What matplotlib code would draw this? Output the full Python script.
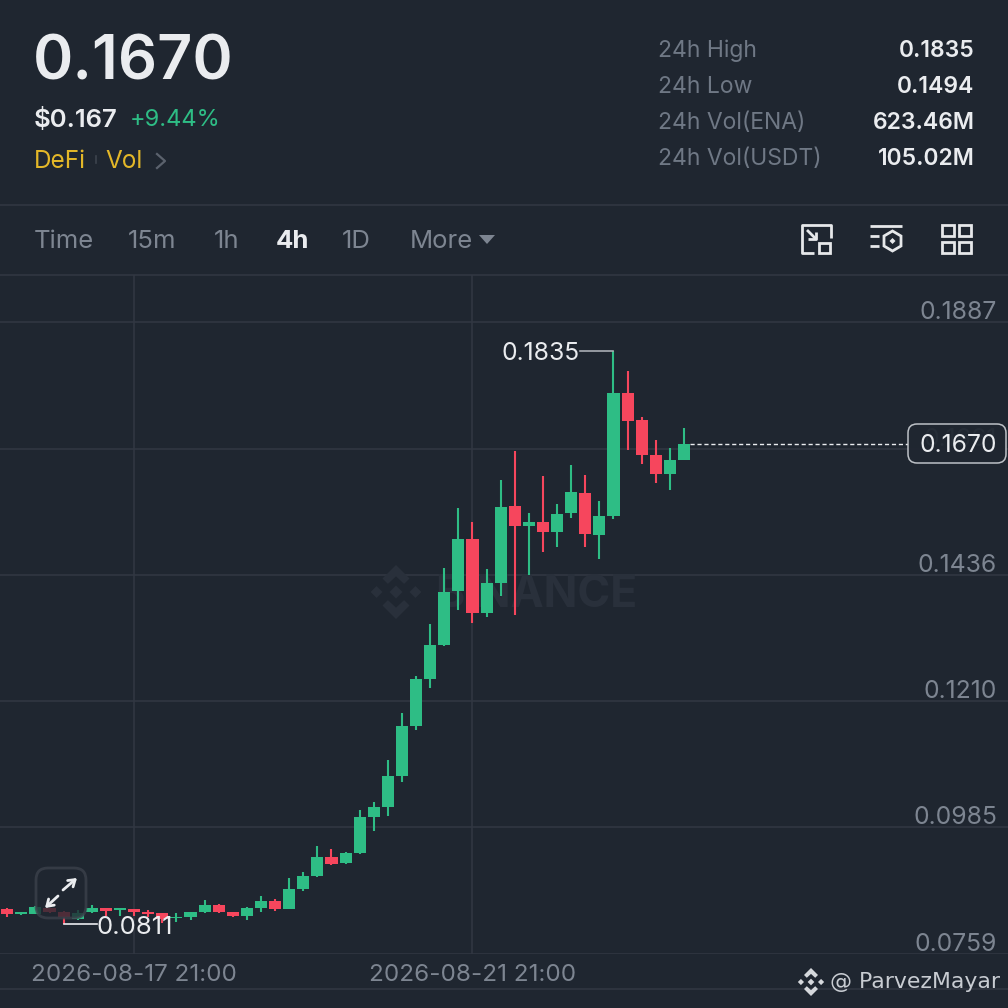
# Свечной график ENA/USDT, 4h
import matplotlib
matplotlib.use('Agg')
import matplotlib.pyplot as plt
from matplotlib.patches import FancyBboxPatch, Polygon, Rectangle

plt.rcParams['font.family'] = ['Inter', 'DejaVu Sans']

BG = '#1f2630'
GRID = '#323843'
GREEN = '#2ebd85'
RED = '#f6465d'
GREY = '#7d8591'
WHITE = '#eaecef'
YELLOW = '#e3b728'
WATERMARK = '#29303b'

opens = [.08385, .08296, .08301, .08398, .08332, .08201, .08326, .08398, .08362, .08380,
         .08332, .08314, .08219, .08242, .08326, .08462, .08326, .08266, .08408, .08528,
         .08385, .08742, .08975, .09314, .09213, .09391, .10029, .10202, .10761, .11654,
         .12499, .13101, .14060, .14989, .13667, .14208, .15584, .15227, .15298, .15125,
         .15459, .15816, .15071, .15400, .17602, .17115, .16489, .16161, .16400]
highs = [.08412, .08337, .08444, .08408, .08355, .08367, .08451, .08403, .08403, .08385,
         .08373, .08319, .08308, .08326, .08546, .08475, .08337, .08426, .08617, .08558,
         .08932, .09046, .09510, .09451, .09409, .10159, .10302, .11047, .11881, .12553,
         .13476, .14471, .15548, .15293, .14459, .16043, .16566, .15453, .16120, .15620,
         .16311, .16138, .15668, .18350, .18001, .17168, .16768, .16614, .16977]
lows = [.08242, .08278, .08296, .08308, .08110, .08189, .08314, .08260, .08260, .08265,
        .08237, .08141, .08158, .08189, .08314, .08314, .08242, .08189, .08332, .08350,
        .08380, .08712, .08963, .09177, .09195, .09373, .09784, .10052, .10649, .11588,
        .12333, .13083, .13726, .13499, .13596, .13976, .13632, .14357, .14757, .14857,
        .15369, .14846, .14637, .15357, .16589, .16329, .15995, .15870, .16400]
closes = [.08301, .08332, .08416, .08332, .08248, .08308, .08403, .08355, .08398, .08337,
          .08291, .08207, .08248, .08326, .08451, .08337, .08266, .08408, .08523, .08385,
          .08737, .08980, .09314, .09195, .09380, .10029, .10202, .10761, .11654, .12499,
          .13096, .14048, .14989, .13667, .14208, .15566, .15221, .15298, .15119, .15446,
          .15829, .15078, .15405, .17602, .17102, .16500, .16161, .16400, .16697]

price_ticks = [0.1887, 0.1661, 0.1436, 0.1210, 0.0985, 0.0759]
date_positions = [9, 33]
date_labels = ['2026-08-17 21:00', '2026-08-21 21:00']
last_price = 0.1670
top_tabs = ['Time', '15m', '1h', '4h', '1D', 'More']
tab_x = [34, 128, 214, 276, 342, 410]
stat_names = ['24h High', '24h Low', '24h Vol(ENA)', '24h Vol(USDT)']
stat_values = ['0.1835', '0.1494', '623.46M', '105.02M']
stat_y = [51, 87, 123, 159]

fig = plt.figure(figsize=(10.08, 10.08), dpi=100, facecolor=BG)

# Область свечей: y от 275 до 954 пикселей
ax = fig.add_axes([0, 54 / 1008, 1, 679 / 1008], facecolor='none')
ax.set_xlim(-0.511, 70.98)
ax.set_ylim(0.07582, 0.19710)
for side in ax.spines.values():
    side.set_visible(False)
ax.set_xticks([])
ax.set_yticks([])

# Слой интерфейса в пикселях
ui = fig.add_axes([0, 0, 1, 1], facecolor='none')
ui.set_xlim(0, 1008)
ui.set_ylim(1008, 0)
ui.axis('off')

for p in price_ticks:
    ax.axhline(p, color=GRID, lw=1.1, zorder=1)
for d in date_positions:
    ax.axvline(d, color=GRID, lw=1.1, zorder=1)

# Значок биржи
def logo(target, cx, cy, r, color, zorder):
    shapes = [
        [(0, .24), (.24, 0), (0, -.24), (-.24, 0)],
        [(-.72, .22), (-.5, 0), (-.72, -.22), (-.94, 0)],
        [(.72, .22), (.94, 0), (.72, -.22), (.5, 0)],
        [(0, 1), (.5, .5), (.3, .3), (0, .58), (-.3, .3), (-.5, .5)],
        [(0, -1), (.5, -.5), (.3, -.3), (0, -.58), (-.3, -.3), (-.5, -.5)],
    ]
    for s in shapes:
        pts = [(cx + a * r, cy - b * r) for a, b in s]
        target.add_patch(Polygon(pts, closed=True, fc=color, ec='none',
                                 transform=ui.transData, zorder=zorder))

logo(ax, 396, 592, 27, WATERMARK, 1.5)
ax.text(435, 595, 'BINANCE', transform=ui.transData, color=WATERMARK, fontsize=32,
        fontweight='bold', va='center', ha='left', zorder=1.5)

# Свечи
for i in range(len(opens)):
    color = GREEN if closes[i] >= opens[i] else RED
    ax.vlines(i, lows[i], highs[i], color=color, lw=1.5, zorder=3)
    bottom = min(opens[i], closes[i])
    ax.add_patch(Rectangle((i - 0.43, bottom), 0.86, abs(closes[i] - opens[i]),
                           fc=color, ec='none', zorder=4))

# Подписи осей
for p in price_ticks:
    ax.annotate(f'{p:.4f}', xy=(1, p), xycoords=ax.get_yaxis_transform(),
                xytext=(-8, -1.5), textcoords='offset points', color=GREY, fontsize=17.8,
                ha='right', va='bottom', zorder=2)

for d, label in zip(date_positions, date_labels):
    ax.annotate(label, xy=(d, 0), xycoords=ax.get_xaxis_transform(), xytext=(0, -7.5),
                textcoords='offset points', color=GREY, fontsize=17.4, ha='center', va='top')

# Максимум и минимум
hi_i = highs.index(max(highs))
lo_i = lows.index(min(lows))
ax.plot([hi_i - 2.4, hi_i], [highs[hi_i], highs[hi_i]], color='#a9adb3', lw=1.2, zorder=5)
ax.annotate(f'{highs[hi_i]:.4f}', xy=(hi_i - 2.4, highs[hi_i]), xytext=(0, -2),
            textcoords='offset points', color=WHITE, fontsize=17.8, ha='right', va='center', zorder=6)
ax.plot([lo_i, lo_i + 2.4], [lows[lo_i], lows[lo_i]], color=WHITE, lw=1.2, zorder=5)
ax.annotate(f'{lows[lo_i]:.4f}', xy=(lo_i + 2.4, lows[lo_i]), xytext=(-1, -2.5),
            textcoords='offset points', color=WHITE, fontsize=18.5, ha='left', va='center', zorder=6)

# Линия текущей цены
ax.plot([48.4, 63.9], [last_price, last_price], color=WHITE, lw=1, dashes=(3, 2), zorder=5)
ui.add_patch(FancyBboxPatch((908, 424), 98, 39, boxstyle='round,pad=0,rounding_size=9',
                            fc=BG, ec='#c9cdd2', lw=1.1, alpha=0.93, zorder=6))
ui.text(958, 446, f'{last_price:.4f}', color=WHITE, fontsize=17.8, ha='center', va='center', zorder=7)

# Шапка
ui.text(33, 63, '0.1670', color=WHITE, fontsize=44, fontweight=600, va='center')
ui.text(34, 120, '$0.167', color=WHITE, fontsize=18.5, fontweight=600, va='center')
ui.text(130, 120, '+9.44%', color=GREEN, fontsize=17, va='center')
ui.text(34, 162, 'DeFi', color=YELLOW, fontsize=17.5, va='center')
ui.plot([96, 96], [156, 163], color='#3d434d', lw=1.2)
ui.text(105, 162, 'Vol', color=YELLOW, fontsize=17.5, va='center')
ui.plot([157, 165, 157], [154, 161, 168], color='#5b626d', lw=1.6)

for name, value, y in zip(stat_names, stat_values, stat_y):
    ui.text(658, y, name, color='#6f7885', fontsize=16.5, va='center')
    ui.text(974.5, y, value, color=WHITE, fontsize=16.5, fontweight=600, va='center', ha='right')

ui.axhline(204.5, color=GRID, lw=1.1)
ui.axhline(274.5, color=GRID, lw=1.1)
ui.axhline(989, color=GRID, lw=1.1)

# Вкладки
for tab, x in zip(top_tabs, tab_x):
    active = tab == '4h'
    ui.text(x, 242, tab, color=WHITE if active else GREY, fontsize=18.5,
            fontweight='bold' if active else 'normal', va='center')
ui.add_patch(Polygon([(479, 235), (495, 235), (487, 244)], fc=GREY, ec='none'))

# Значки справа
ICON = dict(color='#e6e8ea', lw=2, solid_capstyle='butt')
ui.plot([830.5, 830.5, 802, 802, 814], [238, 224.5, 224.5, 253, 253], **ICON)
ui.add_patch(Rectangle((818.5, 243), 11.5, 10, fc='none', ec='#e6e8ea', lw=2))
ui.plot([807, 816], [230, 239], **ICON)
ui.plot([816, 816, 808], [232, 239, 239], **ICON)
ui.plot([870, 901.5], [225.5, 225.5], **ICON)
ui.plot([870, 879], [236, 236], **ICON)
ui.plot([870, 879], [246, 246], **ICON)
ui.add_patch(Polygon([(892.5, 231), (901, 236), (901, 246), (892.5, 251), (884, 246), (884, 236)],
                     fc='none', ec='#e6e8ea', lw=2))
ui.add_patch(Polygon([(892.5, 238), (895.5, 241), (892.5, 244), (889.5, 241)], fc='#e6e8ea', ec='none'))
for x0, y0 in [(942, 225), (959, 225), (942, 242), (959, 242)]:
    ui.add_patch(Rectangle((x0, y0), 11.5, 11, fc='none', ec='#e6e8ea', lw=2))

# Кнопка разворота
ui.add_patch(FancyBboxPatch((36, 868), 50, 50, boxstyle='round,pad=0,rounding_size=12',
                            fc=BG, ec='#3c424c', lw=2, alpha=0.78, zorder=8))
for start, end in [((58, 896), (45, 908)), ((63, 890), (77, 878))]:
    ui.annotate('', xy=end, xytext=start, zorder=9,
                arrowprops=dict(arrowstyle='->,head_length=0.45,head_width=0.3', color=WHITE,
                                lw=2, shrinkA=0, shrinkB=0))

# Подпись автора
logo(ui, 811, 982, 14, '#d5d8dc', 9)
ui.text(830, 982, '@ ParvezMayar', family='DejaVu Sans', color='#c8ccd2', fontsize=15.8,
        va='center', zorder=9)

fig.savefig('out.png', dpi=100, facecolor=BG)
